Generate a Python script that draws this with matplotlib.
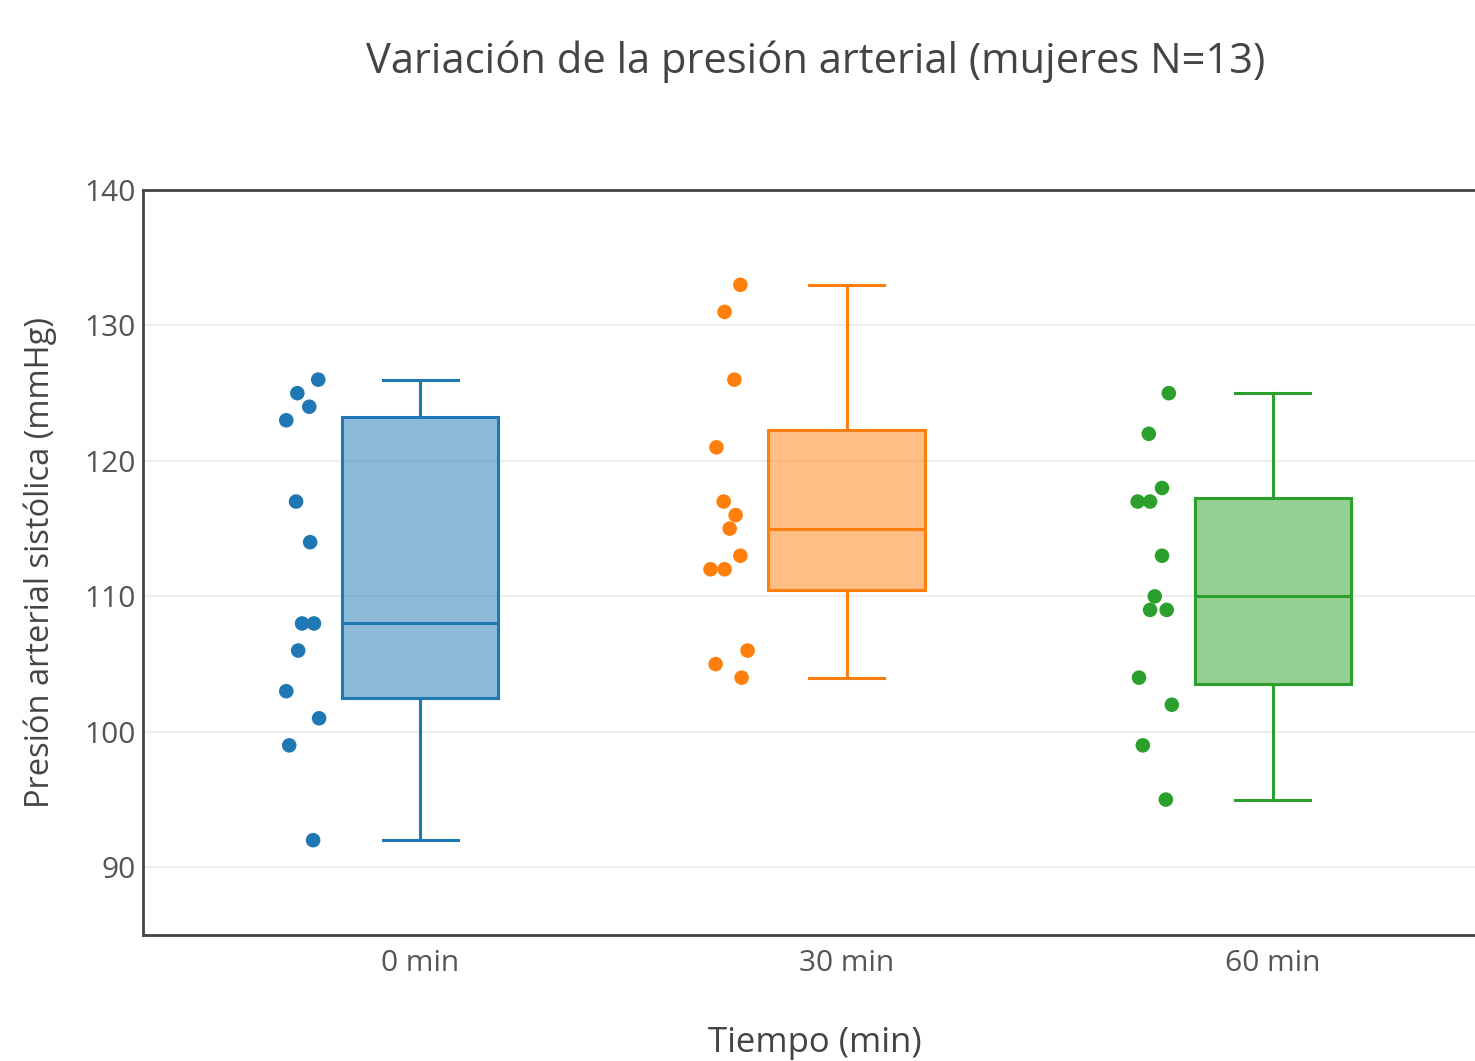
import numpy as np
import matplotlib.pyplot as plt
from matplotlib import cbook
from matplotlib.colors import to_rgba

plt.rcParams['font.family'] = ['Open Sans', 'DejaVu Sans']

categories = ['0 min', '30 min', '60 min']
colors = ['#1f77b4', '#ff7f0e', '#2ca02c']

# systolic pressure readings per time point
p_0 = [126, 125, 124, 123, 117, 114, 108, 108, 106, 103, 101, 99, 92]
p_30 = [133, 131, 126, 121, 117, 116, 115, 113, 112, 112, 106, 105, 104]
p_60 = [125, 122, 118, 117, 117, 113, 110, 109, 109, 104, 102, 99, 95]

# horizontal jitter of the dots, relative to category centre
jit_0 = [-0.239, -0.288, -0.260, -0.314, -0.291, -0.258, -0.277, -0.249,
         -0.286, -0.314, -0.237, -0.307, -0.251]
jit_30 = [-0.249, -0.286, -0.263, -0.305, -0.288, -0.260, -0.274, -0.249,
          -0.319, -0.286, -0.232, -0.307, -0.246]
jit_60 = [-0.244, -0.291, -0.260, -0.317, -0.288, -0.260, -0.277, -0.288,
          -0.249, -0.314, -0.237, -0.305, -0.251]

data = [p_0, p_30, p_60]
jits = [jit_0, jit_30, jit_60]

W, H = 1475, 1061
fig = plt.figure(figsize=(W / 100, H / 100), dpi=100)
# plot area runs past the right edge of the image, as in the original
ax = fig.add_axes([143 / W, (H - 935) / H, (1550 - 143) / W, (935 - 190) / H])

grey = '#444444'
for i, (vals, jit, c) in enumerate(zip(data, jits, colors)):
    st = cbook.boxplot_stats(vals, whis=(0, 100))[0]
    # plotly-style quartiles
    st['q1'], st['q3'] = np.percentile(vals, [25, 75], method='hazen')
    ax.bxp([st], positions=[i], widths=0.366, patch_artist=True,
           showfliers=False, capwidths=0.176,
           boxprops=dict(facecolor=to_rgba(c, 0.5), edgecolor=c, linewidth=2.2),
           medianprops=dict(color=c, linewidth=2.2),
           whiskerprops=dict(color=c, linewidth=2.2),
           capprops=dict(color=c, linewidth=2.2))
    ax.scatter(i + np.array(jit), vals, s=110, color=c, zorder=3,
               edgecolors='none')

ax.set_xlim(-0.65, 2.65)
ax.set_ylim(85, 140)
ax.set_xticks(range(3))
ax.set_xticklabels(categories)
ax.set_yticks([90, 100, 110, 120, 130, 140])
ax.tick_params(length=0, labelsize=21.5, colors='#555555')
ax.tick_params(axis='x', pad=10)
ax.tick_params(axis='y', pad=5)
ax.grid(axis='y', color='#eeeeee', linewidth=1.5)
ax.set_axisbelow(True)
for side in ['left', 'top', 'bottom']:
    ax.spines[side].set_color(grey)
    ax.spines[side].set_linewidth(2)
ax.spines['right'].set_visible(False)

fig.text(816 / W, 1 - 62 / H, 'Variación de la presión arterial (mujeres N=13)',
         ha='center', va='center', fontsize=30, color=grey)
fig.text(815 / W, 1 - 1043 / H, 'Tiempo (min)', ha='center', va='center',
         fontsize=25, color=grey)
fig.text(40 / W, 1 - 563 / H, 'Presión arterial sistólica (mmHg)', ha='center',
         va='center', rotation=90, fontsize=23.5, color=grey)

fig.savefig('out.png', dpi=100)
